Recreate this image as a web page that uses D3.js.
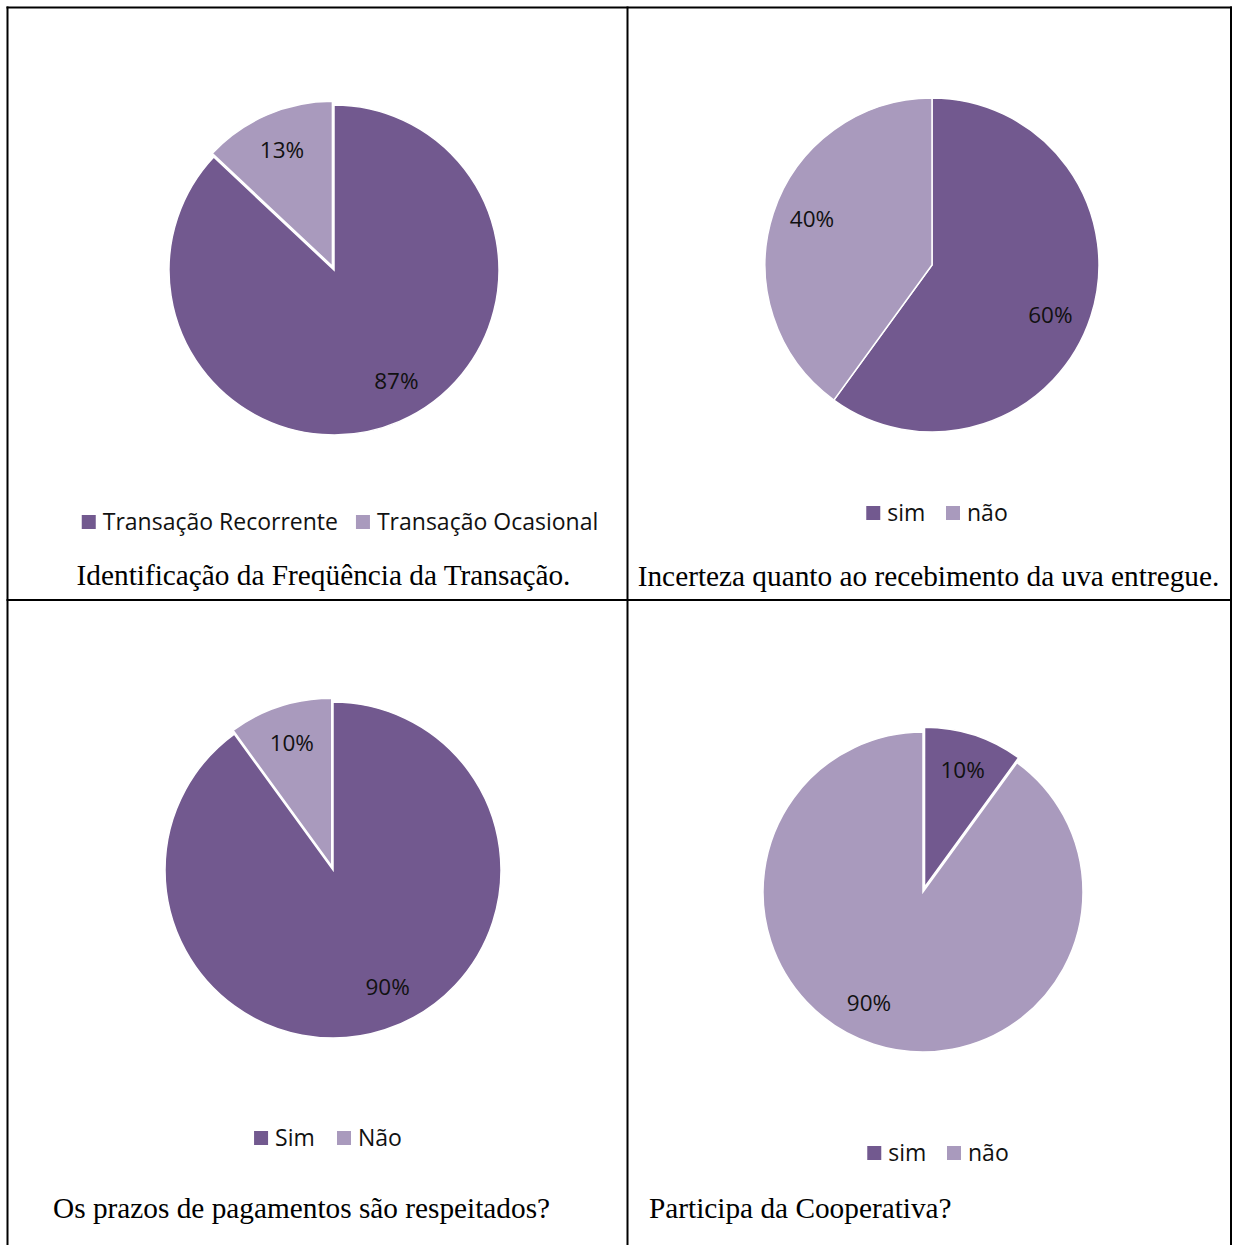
<!DOCTYPE html>
<html>
<head>
<meta charset="utf-8">
<script src="https://cdn.jsdelivr.net/npm/d3@7"></script>
<style>
  body { margin: 0; background: #fff; }
  svg { display: block; }
</style>
</head>
<body>
<svg id="chart" width="1233" height="1245"></svg>
<script>
// values, one entry per pie (top-left, top-right, bottom-left, bottom-right)
const chartTitles = [
  'Identificação da Freqüência da Transação.',
  'Incerteza quanto ao recebimento da uva entregue.',
  'Os prazos de pagamentos são respeitados?',
  'Participa da Cooperativa?'
];
const legendLabels = [
  ['Transação Recorrente', 'Transação Ocasional'],
  ['sim', 'não'],
  ['Sim', 'Não'],
  ['sim', 'não']
];
const shareValues = [
  [87, 13],
  [60, 40],
  [90, 10],
  [10, 90]
];

(function() {
  const colors = ['#72598f', '#a99abd'];

  // where each pie sits inside its table cell; nudge = label angle shift in degrees
  const layout = [
    {cx: 334, cy: 270, r: 165, explode: 4, nudge: [-6, 0], legendX: 340, legendY: 522, titleX: 323.5, titleY: 585, anchor: 'middle'},
    {cx: 932, cy: 265, r: 167, explode: 0, nudge: [5, 3], legendX: 937, legendY: 513, titleX: 928.5, titleY: 586, anchor: 'middle'},
    {cx: 333, cy: 870, r: 168, explode: 4, nudge: [-7, 0], legendX: 328, legendY: 1138, titleX: 53, titleY: 1218, anchor: 'start'},
    {cx: 923, cy: 892, r: 160, explode: 5, nudge: [0, 8], legendX: 938, legendY: 1153, titleX: 649, titleY: 1218, anchor: 'start'}
  ];

  let svg = d3.select('#chart');

  // table grid
  let grid = svg.append('g').attr('stroke', '#000').attr('stroke-width', 2);
  grid.append('line').attr('x1', 6.5).attr('x2', 1232).attr('y1', 7.5).attr('y2', 7.5);
  grid.append('line').attr('x1', 7.5).attr('x2', 7.5).attr('y1', 6.5).attr('y2', 1245);
  grid.append('line').attr('x1', 1231).attr('x2', 1231).attr('y1', 6.5).attr('y2', 1245);
  grid.append('line').attr('x1', 627.5).attr('x2', 627.5).attr('y1', 6.5).attr('y2', 1245);
  grid.append('line').attr('x1', 6.5).attr('x2', 1232).attr('y1', 600).attr('y2', 600);

  let pie = d3.pie().sort(null).value(d => d);

  shareValues.forEach((values, i) => {
    let L = layout[i];
    let arcs = pie(values);
    let minIndex = values.indexOf(d3.min(values));
    let arc = d3.arc().innerRadius(0).outerRadius(L.r);
    let labelR = L.r * 0.77;

    let offset = (d, j) => {
      if (j !== minIndex) return [0, 0];
      let a = (d.startAngle + d.endAngle) / 2;
      return [Math.sin(a) * L.explode, -Math.cos(a) * L.explode];
    };
    let labelPos = (d, j) => {
      let a = (d.startAngle + d.endAngle) / 2 + L.nudge[j] * Math.PI / 180;
      let o = offset(d, j);
      return [Math.sin(a) * labelR + o[0], -Math.cos(a) * labelR + o[1]];
    };

    let g = svg.append('g').attr('transform', 'translate(' + L.cx + ',' + L.cy + ')');
    g.selectAll('path')
      .data(arcs)
      .enter()
      .append('path')
      .attr('d', arc)
      .attr('transform', (d, j) => 'translate(' + offset(d, j) + ')')
      .attr('fill', (d, j) => colors[j])
      .attr('stroke', '#fff')
      .attr('stroke-width', 1.5);
    g.selectAll('text')
      .data(arcs)
      .enter()
      .append('text')
      .attr('x', (d, j) => labelPos(d, j)[0])
      .attr('y', (d, j) => labelPos(d, j)[1])
      .attr('dy', '0.35em')
      .attr('text-anchor', 'middle')
      .attr('font-family', '"Open Sans", sans-serif')
      .attr('font-size', 22.5)
      .attr('fill', '#111')
      .text(d => d.data + '%');

    // legend: equal slots, centred on legendX
    let lg = svg.append('g');
    let items = lg.selectAll('g')
      .data(legendLabels[i])
      .enter()
      .append('g');
    items.append('rect')
      .attr('width', 14).attr('height', 14)
      .attr('y', L.legendY - 7)
      .attr('fill', (d, j) => colors[j]);
    let texts = items.append('text')
      .attr('x', 21)
      .attr('y', L.legendY)
      .attr('dy', '0.35em')
      .attr('font-family', '"Open Sans", sans-serif')
      .attr('font-size', 23)
      .attr('fill', '#111')
      .text(d => d);
    let widths = texts.nodes().map(n => n.getComputedTextLength());
    let slot = 21 + d3.max(widths) + 18;
    let total = slot * (widths.length - 1) + 21 + widths[widths.length - 1];
    let x0 = L.legendX - total / 2;
    items.attr('transform', (d, j) => 'translate(' + (x0 + j * slot) + ',0)');

    svg.append('text')
      .attr('x', L.titleX)
      .attr('y', L.titleY)
      .attr('text-anchor', L.anchor)
      .attr('font-family', '"Liberation Serif", "Times New Roman", serif')
      .attr('font-size', 29.3)
      .attr('fill', '#000')
      .text(chartTitles[i]);
  });
})();
</script>
</body>
</html>
